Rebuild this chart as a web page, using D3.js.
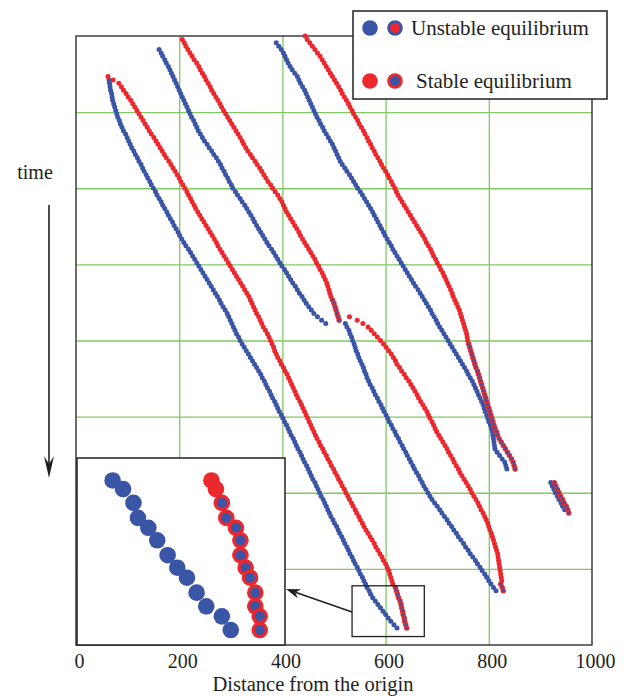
<!DOCTYPE html>
<html>
<head>
<meta charset="utf-8">
<script src="https://cdn.jsdelivr.net/npm/d3@7"></script>
<style>
  body { margin: 0; background: #fff; }
  svg text { font-family: "Liberation Serif", "DejaVu Serif", serif; fill: #231f20; }
</style>
</head>
<body>
<div id="chart-area"></div>
<script>
// axis values
var xTicks = [0, 200, 400, 600, 800, 1000];
var xGrid = [200, 400, 600, 800];
var timeGrid = [22.5, 45, 67.5, 90, 112.5, 135, 157.5];

// distance of each trajectory, one value per time step (start step noted)
// blue L starts at step 13
var blueL = [64,65,66,67,69,70,71,73,75,77,79,81,84,86,89,92,96,99,102,105,108,112,115,119,122,126,129,132,136,139,143,146,150,154,157,161,165,168,172,176,179,183,187,190,194,198,201,205,209,213,218,222,226,230,234,238,242,246,250,254,258,262,266,270,274,278,281,285,289,293,296,299,302,305,308,311,315,318,322,326,330,334,338,342,346,350,354,358,361,365,368,371,375,378,381,385,388,391,394,398,401,404,408,411,414,417,421,424,427,430,434,437,440,443,447,450,453,456,459,463,466,469,472,475,479,482,485,488,491,494,498,501,505,508,511,515,518,521,525,528,531,535,538,541,545,548,551,555,558,561,564,568,571,575,580,585,590,595,600,605,610,616,622];
// red L starts at step 12, its ringed tail at 163
var redL = [62,72,83,88,92,97,101,106,110,114,118,122,126,130,134,138,142,146,151,155,159,163,167,171,175,180,184,188,192,196,200,203,207,211,215,218,222,225,229,232,236,240,244,248,252,256,260,264,268,272,275,279,283,287,291,295,299,303,307,311,315,319,323,327,331,335,338,341,344,347,350,354,357,360,363,367,371,374,377,380,383,385,388,391,395,398,402,405,409,412,415,418,421,424,427,430,434,437,440,443,446,449,452,455,458,461,464,467,471,474,478,481,485,488,492,495,499,502,506,509,513,516,520,523,527,530,534,537,541,544,548,551,555,558,562,566,570,574,578,581,585,589,593,596,600,603,606,608,610,612,614];
var redLRing = [619,621,623,625,628,630,631,633,634,636,637,639,641];
// blue M starts at step 4, blue M2 at 85
var blueM = [161,165,168,172,175,179,182,185,188,191,194,197,200,203,206,209,212,215,218,221,224,228,231,234,237,241,245,249,254,258,263,267,272,276,280,283,287,290,294,297,301,304,309,313,318,322,327,331,335,339,343,346,350,354,358,362,366,370,374,379,383,387,391,395,399,404,408,412,416,420,425,429,433,438,442,446,451,456,461,468,476,484];
var blueM2 = [522,525,529,531,534,536,539,541,543,546,548,551,554,557,559,562,564,567,570,574,577,580,584,587,591,594,597,601,604,607,611,614,618,621,625,628,632,635,639,642,646,649,653,656,660,664,667,671,674,678,682,686,690,695,700,705,709,714,719,723,728,732,737,741,746,751,755,760,764,769,774,778,783,787,792,796,800,804,809,814];
// red M starts at step 1, ring at 78, red M2 at 83, ring at 162
var redM = [206,210,213,217,221,225,229,234,238,241,245,249,252,256,260,263,267,271,275,279,282,286,290,294,298,302,306,310,314,318,322,325,329,333,338,342,347,351,356,360,364,368,372,377,381,386,391,395,399,402,405,408,412,416,420,424,428,432,435,439,443,447,451,455,459,463,466,470,473,477,480,483,486,488,490,492,494];
var redMRing = [497,500,502,504,506,508,510];
var redM2 = [530,545,556,566,572,578,584,590,596,601,606,611,615,619,622,627,631,636,640,645,649,653,657,661,664,668,672,676,680,683,686,690,693,696,699,703,707,711,715,719,722,726,730,733,737,741,744,748,752,756,760,764,767,771,775,779,782,785,789,792,795,798,800,802,805,807,809,811,813,815,817,818,819,820,821,822,823,824,825];
var redM2Ring = [823,826,828];
// blue R starts at step 2
var blueR = [388,393,398,402,405,408,411,415,419,424,429,432,435,439,443,446,449,452,455,458,461,464,467,471,474,478,481,485,489,493,497,500,503,506,509,512,516,521,525,530,534,538,542,546,551,555,559,563,567,571,575,578,582,585,589,592,596,599,603,607,611,614,618,622,626,630,634,638,642,646,650,654,658,663,667,671,675,679,683,687,690,694,698,701,705,709,713,717,721,725,729,733,737,741,745,749,753,757,760,764,768,771,774,777,780,783,786,789,791,793,796,798,800,803,805,807,808,809,810,811,812,816,821,826,831,833,835];
// red R starts at step 0, ring at 91
var redR = [444,448,453,458,463,468,473,477,481,485,489,493,497,501,505,509,513,516,520,524,528,531,535,538,542,546,549,553,557,560,564,567,571,574,578,581,585,589,592,596,600,604,607,611,614,618,621,624,628,632,636,640,644,648,652,656,660,664,668,672,676,679,683,687,690,693,697,700,704,707,711,714,717,720,723,726,729,731,734,737,740,743,745,747,749,751,753,755,757,758,759];
var redRRing = [761,763,765,767,769,771,773,775,778,780,782,784,786,788,790,792,794,796,798,800,802,804,806,808,810,812,815,817,820,824,828,832,836,840,844,847,849,851];
// small group on the right, both from step 132
var blueC = [920,923,926,929,933,936,940,943,947];
var ringC = [927,930,933,936,939,943,946,950,953,955];

// inset (enlarged end of the L pair): time steps and distances
var insetTime = [164.3,165.0,166.1,167.3,168.1,169.1,170.3,171.3,172.1,173.3,174.4,175.2,176.3];
var insetBlue = [559,566,573,576,583,589,596,602.5,609,615.5,622,632.5,638.5];
var insetRed = [625.5,628.5,632.5,635.5,642,645,645,648.5,651.5,655,655,658,658];
var insetPlainRed = 2;  // first dots without blue inside
var boxDomainX = [535, 675];
var boxDomainT = [162.5, 177.5];

var series = [
  { kind: "blue", start: 13, xs: blueL },
  { kind: "blue", start: 4, xs: blueM },
  { kind: "blue", start: 85, xs: blueM2 },
  { kind: "blue", start: 2, xs: blueR },
  { kind: "blue", start: 132, xs: blueC },
  { kind: "red", start: 12, xs: redL },
  { kind: "red", start: 1, xs: redM },
  { kind: "red", start: 83, xs: redM2 },
  { kind: "red", start: 0, xs: redR },
  { kind: "ring", start: 163, xs: redLRing },
  { kind: "ring", start: 78, xs: redMRing },
  { kind: "ring", start: 162, xs: redM2Ring },
  { kind: "ring", start: 91, xs: redRRing },
  { kind: "ring", start: 132, xs: ringC }
];

var BLUE = "#3b55a6";
var RED = "#ea282d";
var GREEN = "#80c963";
var INK = "#231f20";
var SERIF = "Liberation Serif, DejaVu Serif, serif";

var margin = { left: 76, right: 32, top: 36, bottom: 51 };
var width = 624 - margin.left - margin.right;
var height = 696 - margin.top - margin.bottom;

var svg = d3.select("#chart-area")
  .append("svg")
  .attr("width", 624)
  .attr("height", 696)
  .attr("font-family", SERIF);

var g = svg.append("g")
  .attr("transform", "translate(" + margin.left + "," + margin.top + ")");

// Scales
var x = d3.scaleLinear().domain([0, 1000]).range([0, width]);
var y = d3.scaleLinear().domain([0, 180]).range([0, height]);

// Grid
var vGrid = g.append("g")
  .call(d3.axisTop(x).tickValues(xGrid).tickSize(-height).tickFormat(""));
var hGrid = g.append("g")
  .call(d3.axisLeft(y).tickValues(timeGrid).tickSize(-width).tickFormat(""));
[vGrid, hGrid].forEach(gr => {
  gr.select(".domain").remove();
  gr.selectAll("line").attr("stroke", GREEN).attr("stroke-width", 1.3);
});

// Frame
g.append("rect")
  .attr("width", width)
  .attr("height", height)
  .attr("fill", "none")
  .attr("stroke", INK)
  .attr("stroke-width", 1.3);

// Dots
function points(s) {
  return s.xs.map((d, i) => ({ d: d, t: s.start + i }));
}

["blue", "red"].forEach(kind => {
  series.filter(s => s.kind === kind).forEach(s => {
    g.append("g").selectAll("circle")
      .data(points(s))
      .enter()
      .append("circle")
      .attr("cx", p => x(p.d))
      .attr("cy", p => y(p.t))
      .attr("r", 2.5)
      .attr("fill", kind === "blue" ? BLUE : RED);
  });
});

series.filter(s => s.kind === "ring").forEach(s => {
  var ring = g.append("g").selectAll("g")
    .data(points(s))
    .enter()
    .append("g")
    .attr("transform", p => "translate(" + x(p.d) + "," + y(p.t) + ")");
  ring.append("circle").attr("r", 2.7).attr("fill", RED);
  ring.append("circle").attr("r", 1.4).attr("fill", BLUE);
});

// X Axis
var xAxis = g.append("g")
  .attr("transform", "translate(0," + height + ")")
  .call(d3.axisBottom(x).tickValues(xTicks).tickSize(0).tickPadding(9).tickFormat(d3.format("d")));
xAxis.attr("font-family", SERIF);
xAxis.select(".domain").remove();
xAxis.selectAll("text")
  .attr("dx", 3)
  .attr("font-size", "20px")
  .attr("fill", INK);

// X Label
svg.append("text")
  .attr("x", 313)
  .attr("y", 691)
  .attr("text-anchor", "middle")
  .attr("font-size", "20.5px")
  .text("Distance from the origin");

// Time label and arrow
svg.append("text")
  .attr("x", 35)
  .attr("y", 179)
  .attr("text-anchor", "middle")
  .attr("font-size", "20px")
  .text("time");
svg.append("line")
  .attr("x1", 49).attr("y1", 205)
  .attr("x2", 49).attr("y2", 466)
  .attr("stroke", INK)
  .attr("stroke-width", 1.6);
svg.append("path")
  .attr("d", "M49,478 L44,456 L49,464 L54,456 Z")
  .attr("fill", INK);

// Zoom box in the plot
g.append("rect")
  .attr("x", x(boxDomainX[0]))
  .attr("y", y(boxDomainT[0]))
  .attr("width", x(boxDomainX[1]) - x(boxDomainX[0]))
  .attr("height", y(boxDomainT[1]) - y(boxDomainT[0]))
  .attr("fill", "none")
  .attr("stroke", INK)
  .attr("stroke-width", 1.3);

// Arrow from box to inset
svg.append("line")
  .attr("x1", 352).attr("y1", 612)
  .attr("x2", 296).attr("y2", 592.5)
  .attr("stroke", INK)
  .attr("stroke-width", 1.6);
svg.append("path")
  .attr("d", "M286,589 L301,589.2 L295.5,592.4 L297.6,598.2 Z")
  .attr("fill", INK);

// Inset
var inset = svg.append("g");
inset.append("rect")
  .attr("x", 77).attr("y", 458)
  .attr("width", 208).attr("height", 187)
  .attr("fill", "#fff")
  .attr("stroke", INK)
  .attr("stroke-width", 1.5);

var xi = d3.scaleLinear().domain(boxDomainX).range([77, 285]);
var yi = d3.scaleLinear().domain(boxDomainT).range([458, 645]);

inset.append("g").selectAll("circle")
  .data(insetBlue)
  .enter()
  .append("circle")
  .attr("cx", d => xi(d))
  .attr("cy", (d, i) => yi(insetTime[i]))
  .attr("r", 8.3)
  .attr("fill", BLUE);

var insetDots = inset.append("g").selectAll("g")
  .data(insetRed)
  .enter()
  .append("g")
  .attr("transform", (d, i) => "translate(" + xi(d) + "," + yi(insetTime[i]) + ")");
insetDots.append("circle").attr("r", 8.3).attr("fill", RED);
insetDots.filter((d, i) => i >= insetPlainRed)
  .append("circle").attr("r", 5).attr("fill", BLUE);

// Legend
var legend = svg.append("g");
legend.append("rect")
  .attr("x", 353).attr("y", 11)
  .attr("width", 254).attr("height", 88)
  .attr("fill", "#fff")
  .attr("stroke", INK)
  .attr("stroke-width", 1.5);

var legendRows = [
  { y: 28, label: "Unstable equilibrium", main: BLUE, inner: RED, tx: 411, ty: 35 },
  { y: 81, label: "Stable equilibrium", main: RED, inner: BLUE, tx: 416, ty: 88 }
];
legendRows.forEach(r => {
  legend.append("circle").attr("cx", 370).attr("cy", r.y).attr("r", 7.8).attr("fill", r.main);
  legend.append("circle").attr("cx", 395).attr("cy", r.y).attr("r", 7.8).attr("fill", r.main);
  legend.append("circle").attr("cx", 395).attr("cy", r.y).attr("r", 5).attr("fill", r.inner);
  legend.append("text")
    .attr("x", r.tx)
    .attr("y", r.ty)
    .attr("font-size", "21px")
    .text(r.label);
});
</script>
</body>
</html>
